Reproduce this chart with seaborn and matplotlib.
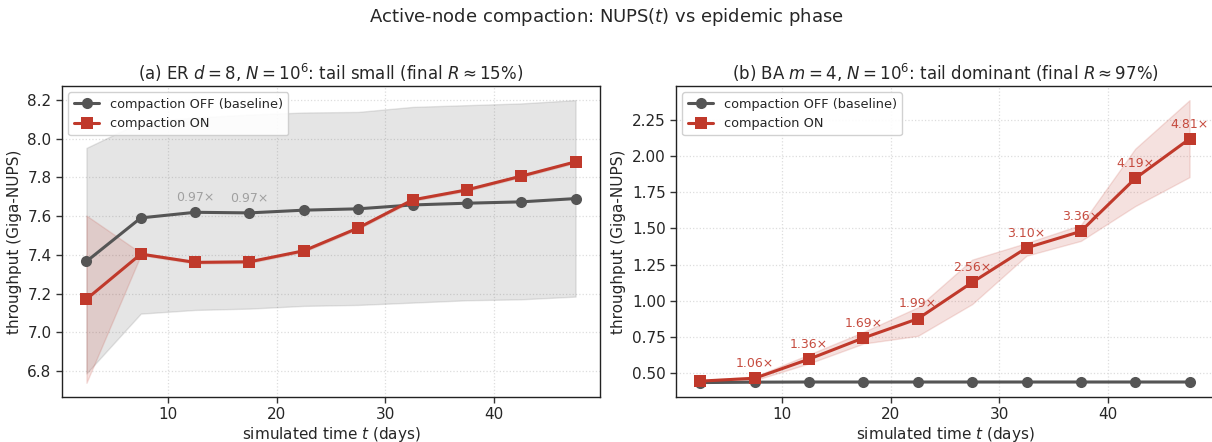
import matplotlib
matplotlib.use("Agg")
import matplotlib.pyplot as plt
import seaborn as sns
import numpy as np

# simulated time (days), bin centres
t_days = [2.5, 7.5, 12.5, 17.5, 22.5, 27.5, 32.5, 37.5, 42.5, 47.5]

# (a) ER d=8 -- throughput in Giga-NUPS
er_off = [7.366, 7.591, 7.620, 7.617, 7.631, 7.638, 7.658, 7.667, 7.674, 7.691]
er_off_lo = [6.787, 7.096, 7.115, 7.122, 7.136, 7.141, 7.153, 7.165, 7.170, 7.184]
er_off_hi = [7.953, 8.087, 8.110, 8.125, 8.136, 8.139, 8.165, 8.174, 8.183, 8.200]
er_on = [7.171, 7.404, 7.361, 7.364, 7.421, 7.539, 7.684, 7.736, 7.807, 7.881]
er_on_lo = [6.738, 7.398, 7.355, 7.358, 7.415, 7.533, 7.678, 7.730, 7.801, 7.875]
er_on_hi = [7.603, 7.410, 7.367, 7.370, 7.427, 7.545, 7.690, 7.742, 7.813, 7.887]

# (b) BA m=4 -- throughput in Giga-NUPS
ba_off = [0.436, 0.439, 0.440, 0.440, 0.440, 0.440, 0.440, 0.440, 0.440, 0.440]
ba_off_lo = [0.434, 0.437, 0.438, 0.438, 0.438, 0.438, 0.438, 0.438, 0.438, 0.438]
ba_off_hi = [0.438, 0.441, 0.442, 0.442, 0.442, 0.442, 0.442, 0.442, 0.442, 0.442]
ba_on = [0.446, 0.466, 0.598, 0.744, 0.876, 1.127, 1.365, 1.479, 1.844, 2.117]
ba_on_lo = [0.440, 0.452, 0.568, 0.705, 0.758, 0.977, 1.311, 1.413, 1.653, 1.853]
ba_on_hi = [0.452, 0.478, 0.630, 0.785, 0.955, 1.284, 1.399, 1.523, 2.049, 2.384]

titles = [
    r"(a) ER $d=8$, $N=10^6$: tail small (final $R\approx 15\%$)",
    r"(b) BA $m=4$, $N=10^6$: tail dominant (final $R\approx 97\%$)",
]

sns.set_theme(style="ticks")
plt.rcParams["font.family"] = ["DejaVu Sans"]

C_OFF = "#555555"
C_ON = "#c0392b"

W, H = 1212, 442
fig = plt.figure(figsize=(W / 100, H / 100), dpi=100)
bottom = 1 - 397 / H
height = (397 - 86) / H
ax_a = fig.add_axes([62 / W, bottom, 538 / W, height])
ax_b = fig.add_axes([676 / W, bottom, 538 / W, height])

panels = [
    (ax_a, er_off, er_off_lo, er_off_hi, er_on, er_on_lo, er_on_hi, "#999999"),
    (ax_b, ba_off, ba_off_lo, ba_off_hi, ba_on, ba_on_lo, ba_on_hi, C_ON),
]

for (ax, off, off_lo, off_hi, on, on_lo, on_hi, ann_col), title in zip(panels, titles):
    ax.fill_between(t_days, off_lo, off_hi, color=C_OFF, alpha=0.15, lw=1)
    ax.fill_between(t_days, on_lo, on_hi, color=C_ON, alpha=0.15, lw=1)
    sns.lineplot(x=t_days, y=off, ax=ax, color=C_OFF, marker="o", markersize=8,
                 markeredgewidth=0, linewidth=2.2, label="compaction OFF (baseline)")
    sns.lineplot(x=t_days, y=on, ax=ax, color=C_ON, marker="s", markersize=8,
                 markeredgewidth=0, linewidth=2.2, label="compaction ON")
    # speed-up labels where compaction changes throughput noticeably
    for x, y_on, y_off in zip(t_days, on, off):
        r = y_on / y_off
        if abs(r - 1) > 0.03:
            ax.annotate(f"{r:.2f}\u00d7", (x, max(y_on, y_off)), xytext=(0, 6),
                        textcoords="offset points", ha="center", va="bottom",
                        fontsize=9, color=ann_col, alpha=0.9)
    ax.set_title(title, fontsize=12, pad=4)
    ax.set_xlabel(r"simulated time $t$ (days)", fontsize=11, labelpad=2)
    ax.set_ylabel("throughput (Giga-NUPS)", fontsize=11)
    ax.set_xticks([10, 20, 30, 40])
    ax.tick_params(labelsize=11, length=4, width=1, color="#333333")
    ax.grid(True, linestyle=":", color="#dddddd", linewidth=0.9)
    for sp in ax.spines.values():
        sp.set_color("#222222")
        sp.set_linewidth(1.0)
    ax.legend(loc="upper left", fontsize=9.3, frameon=True, framealpha=0.9,
              edgecolor="#cccccc", fancybox=True)

ax_b.set_yticks([0.5, 0.75, 1.0, 1.25, 1.5, 1.75, 2.0, 2.25])

fig.suptitle(r"Active-node compaction: NUPS($t$) vs epidemic phase", fontsize=13,
             y=1 - 17 / H, va="center")

fig.savefig("out.png", dpi=100)
